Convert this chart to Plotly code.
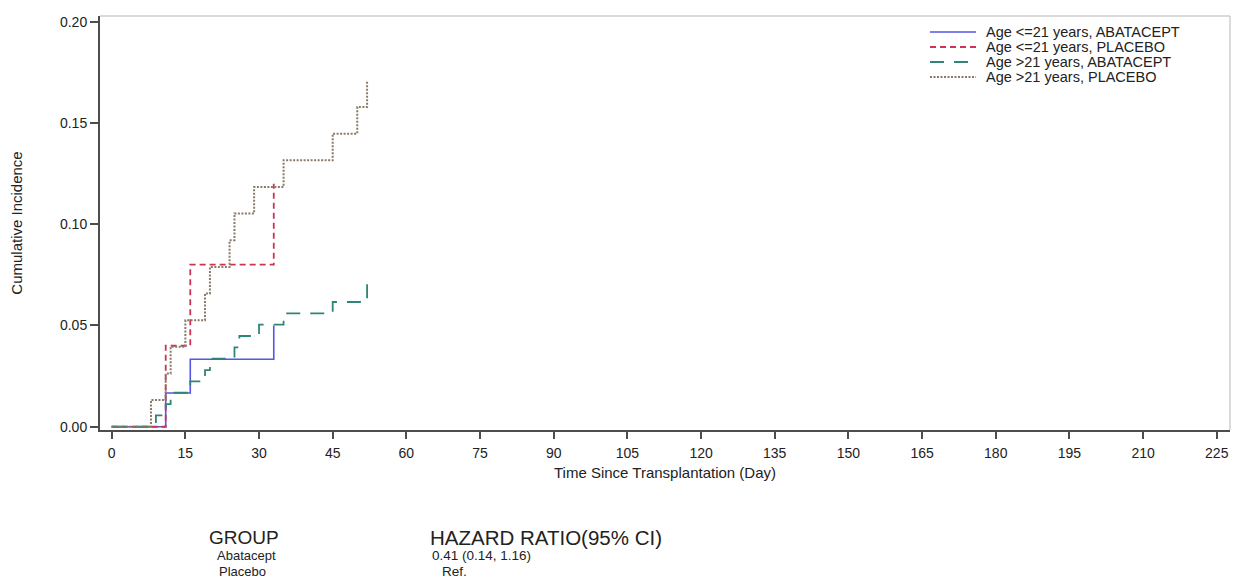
import plotly.graph_objects as go

# Cumulative incidence step curves (day of event, cumulative incidence after the event)
le21_abatacept_days = [0, 11, 16, 33]
le21_abatacept_ci = [0.0, 0.0167, 0.0333, 0.0500]

le21_placebo_days = [0, 11, 16, 33]
le21_placebo_ci = [0.0, 0.0400, 0.0800, 0.1200]

gt21_abatacept_days = [0, 9, 11, 12, 16, 19, 20, 25, 26, 30, 35, 45, 52]
gt21_abatacept_ci = [0.0, 0.0056, 0.0112, 0.0168, 0.0224, 0.0280, 0.0336,
                     0.0392, 0.0448, 0.0504, 0.0560, 0.0616, 0.0728]

gt21_placebo_days = [0, 8, 11, 12, 15, 19, 20, 24, 25, 29, 35, 45, 50, 52]
gt21_placebo_ci = [0.0, 0.0132, 0.0263, 0.0395, 0.0526, 0.0658, 0.0789,
                   0.0921, 0.1053, 0.1184, 0.1316, 0.1447, 0.1579, 0.1711]

series_names = [
    "Age <=21 years, ABATACEPT",
    "Age <=21 years, PLACEBO",
    "Age >21 years, ABATACEPT",
    "Age >21 years, PLACEBO",
]

x_ticks = list(range(0, 226, 15))
y_ticks = [0.00, 0.05, 0.10, 0.15, 0.20]

hr_groups = ["Abatacept", "Placebo"]
hr_values = ["0.41 (0.14, 1.16)", "Ref."]

W, H = 1240, 586
L, R, T, B = 100, 1230, 16, 430

FONT = "Liberation Sans, Arial, sans-serif"
AXIS_COLOR = "#4d4d4d"
TEXT_COLOR = "#222222"

styles = [
    dict(color="#5555e6", width=1.6, dash="solid"),
    dict(color="#cc3355", width=1.8, dash="6px,4px"),
    dict(color="#2e8578", width=1.8, dash="14px,10px"),
    dict(color="#8a7a68", width=2.0, dash="2px,1.5px"),
]
data = [
    (le21_abatacept_days, le21_abatacept_ci),
    (le21_placebo_days, le21_placebo_ci),
    (gt21_abatacept_days, gt21_abatacept_ci),
    (gt21_placebo_days, gt21_placebo_ci),
]

fig = go.Figure()
for name, (xs, ys), st in zip(series_names, data, styles):
    fig.add_trace(go.Scatter(
        x=xs, y=ys, name=name, mode="lines", line_shape="hv", line=st,
        showlegend=False,
    ))


def px_x(px):
    return (px - L) / (R - L)


def px_y(py):
    return (B - py) / (B - T)


annotations = []
shapes = [
    # light frame on top and right
    dict(type="line", xref="paper", yref="paper", x0=0, x1=1, y0=1, y1=1,
         line=dict(color="#cfcfcf", width=1.5)),
    dict(type="line", xref="paper", yref="paper", x0=1, x1=1, y0=0, y1=1,
         line=dict(color="#cfcfcf", width=1.5)),
]

# compact legend in the upper right corner
for i, (name, st) in enumerate(zip(series_names, styles)):
    yy = 32 + 15 * i
    shapes.append(dict(type="line", xref="paper", yref="paper",
                       x0=px_x(930), x1=px_x(976), y0=px_y(yy), y1=px_y(yy),
                       line=st))
    annotations.append(dict(text=name, x=px_x(984), y=px_y(yy), xanchor="left",
                            yanchor="middle",
                            font=dict(size=14.5, color=TEXT_COLOR)))

# hazard ratio table below the plot
annotations.append(dict(text="GROUP", x=px_x(207), y=px_y(537), xanchor="left",
                        yanchor="middle", font=dict(size=19, color=TEXT_COLOR)))
annotations.append(dict(text="HAZARD RATIO(95% CI)", x=px_x(428), y=px_y(537),
                        xanchor="left", yanchor="middle",
                        font=dict(size=20.5, color=TEXT_COLOR)))
for i, (g, v) in enumerate(zip(hr_groups, hr_values)):
    yy = 555 + 16 * i
    annotations.append(dict(text=g, x=px_x(215 + 2 * i), y=px_y(yy),
                            xanchor="left", yanchor="middle",
                            font=dict(size=13, color=TEXT_COLOR)))
    annotations.append(dict(text=v, x=px_x(430 + 10 * i), y=px_y(yy),
                            xanchor="left", yanchor="middle",
                            font=dict(size=13.5, color=TEXT_COLOR)))
for a in annotations:
    a.update(xref="paper", yref="paper", showarrow=False)

fig.update_layout(
    width=W, height=H,
    margin=dict(l=L, r=W - R, t=T, b=H - B, pad=0),
    paper_bgcolor="white", plot_bgcolor="white",
    font=dict(family=FONT, size=14, color=TEXT_COLOR),
    showlegend=False,
    annotations=annotations,
    shapes=shapes,
)
fig.update_xaxes(
    range=[-2.38, 227.7], tickvals=x_ticks, ticktext=[str(t) for t in x_ticks],
    showgrid=False, zeroline=False, showline=True, linecolor=AXIS_COLOR,
    linewidth=2, ticks="outside", ticklen=7, tickwidth=2, tickcolor=AXIS_COLOR,
    tickfont=dict(size=14, color=TEXT_COLOR), ticklabelstandoff=2,
    title=dict(text="Time Since Transplantation (Day)", font=dict(size=15),
               standoff=8),
)
fig.update_yaxes(
    range=[-0.0016, 0.2028], tickvals=y_ticks,
    ticktext=[f"{t:.2f}" for t in y_ticks],
    showgrid=False, zeroline=False, showline=True, linecolor=AXIS_COLOR,
    linewidth=2, ticks="outside", ticklen=8, tickwidth=2, tickcolor=AXIS_COLOR,
    tickfont=dict(size=14, color=TEXT_COLOR),
    title=dict(text="Cumulative Incidence", font=dict(size=15), standoff=34),
)

fig.write_html("out.html")
